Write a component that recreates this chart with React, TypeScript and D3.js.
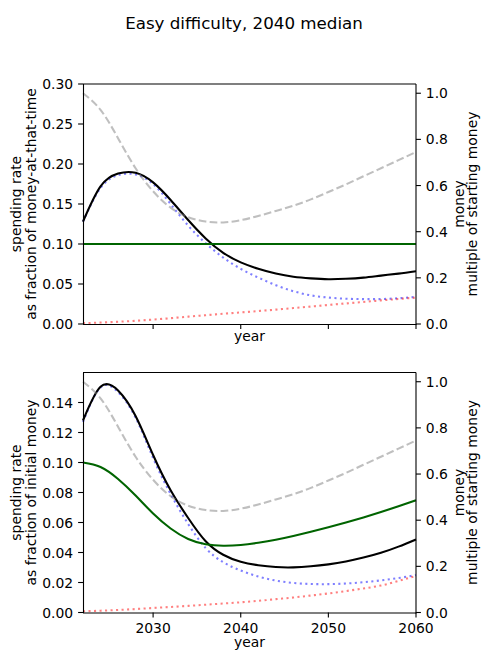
import * as d3 from 'd3';
import React from 'react';

// sample years shared by every series
const YEARS = [2022, 2024, 2026, 2028, 2030, 2032, 2034, 2036, 2038, 2040, 2042, 2044, 2046, 2048, 2050, 2052, 2054, 2056, 2058, 2060];

// money remaining (right axis, both panels), multiple of starting money
const moneyMedian = [1.0, 0.928, 0.805, 0.675, 0.575, 0.504, 0.463, 0.444, 0.44, 0.45, 0.468, 0.49, 0.513, 0.54, 0.572, 0.605, 0.64, 0.675, 0.71, 0.745];

// top panel: spending rate as fraction of money-at-that-time
const topBlack = [0.128, 0.172, 0.188, 0.189, 0.177, 0.155, 0.13, 0.107, 0.089, 0.077, 0.069, 0.063, 0.059, 0.057, 0.056, 0.0565, 0.058, 0.0605, 0.063, 0.066];
const topBlue = [0.128, 0.17, 0.186, 0.187, 0.175, 0.15, 0.123, 0.101, 0.083, 0.069, 0.058, 0.0485, 0.041, 0.0358, 0.033, 0.0316, 0.0311, 0.0312, 0.0322, 0.0338];
const topGreen = [0.1, 0.1, 0.1, 0.1, 0.1, 0.1, 0.1, 0.1, 0.1, 0.1, 0.1, 0.1, 0.1, 0.1, 0.1, 0.1, 0.1, 0.1, 0.1, 0.1];
const topRed = [0.001, 0.0018, 0.0028, 0.004, 0.0055, 0.0073, 0.0092, 0.011, 0.0128, 0.0145, 0.0162, 0.018, 0.0199, 0.0218, 0.0238, 0.0257, 0.0276, 0.0295, 0.0313, 0.033];

// bottom panel: spending rate as fraction of initial money
const botBlack = [0.128, 0.1505, 0.148, 0.131, 0.105, 0.0815, 0.063, 0.0475, 0.0385, 0.0338, 0.0315, 0.0303, 0.0301, 0.0308, 0.0321, 0.034, 0.0366, 0.0398, 0.0439, 0.0487];
const botBlue = [0.127, 0.15, 0.147, 0.13, 0.103, 0.079, 0.059, 0.043, 0.0335, 0.028, 0.024, 0.0213, 0.0197, 0.019, 0.0189, 0.0193, 0.0202, 0.0214, 0.023, 0.0249];
const botGreen = [0.1, 0.097, 0.089, 0.078, 0.066, 0.056, 0.049, 0.0455, 0.0445, 0.045, 0.0465, 0.0485, 0.051, 0.0538, 0.0568, 0.06, 0.0634, 0.067, 0.0708, 0.0748];
const botRed = [0.0008, 0.0012, 0.0017, 0.0023, 0.003, 0.0037, 0.0044, 0.0052, 0.006, 0.0068, 0.0078, 0.0089, 0.010, 0.0113, 0.0127, 0.0143, 0.016, 0.018, 0.021, 0.0244];

const TOP_LEFT_TICKS = [0, 0.05, 0.1, 0.15, 0.2, 0.25, 0.3];
const BOT_LEFT_TICKS = [0, 0.02, 0.04, 0.06, 0.08, 0.1, 0.12, 0.14];
const RIGHT_TICKS = [0, 0.2, 0.4, 0.6, 0.8, 1.0];
const YEAR_TICKS = [2030, 2040, 2050, 2060];

const FONT = '"DejaVu Sans", sans-serif';
const FS = 13.9;
const TICK = 4.9;
const PAD = 4.9;
const LW = 2.08;
const X0 = 83;
const X1 = 416;

type Series = {
    values: number[];
    axis: 'left' | 'right';
    color: string;
    opacity: number;
    dash?: string;
};

interface PanelProps {
    y0: number;
    y1: number;
    leftMax: number;
    leftTicks: number[];
    leftLabel: string[];
    series: Series[];
    showYears: boolean;
    topSpineY: number;
    yearLabelY: number;
}

const x = d3.scaleLinear().domain([2022, 2060]).range([X0, X1]);

function Panel({ y0, y1, leftMax, leftTicks, leftLabel, series, showYears, topSpineY, yearLabelY }: PanelProps) {
    const yL = d3.scaleLinear().domain([0, leftMax]).range([y1, y0]);
    const yR = d3.scaleLinear().domain([0, 1.04]).range([y1, y0]);
    const fmtL = d3.format('.2f');
    const fmtR = d3.format('.1f');
    const midY = (y0 + y1) / 2;
    const midX = (X0 + X1) / 2;

    return (
        <g>
            {series.map((s, i) => {
                const ys = s.axis === 'left' ? yL : yR;
                const line = d3
                    .line<number>()
                    .x((_, j) => x(YEARS[j]))
                    .y((v) => ys(v))
                    .curve(d3.curveNatural);
                return (
                    <path
                        key={i}
                        d={line(s.values) ?? ''}
                        fill="none"
                        stroke={s.color}
                        strokeOpacity={s.opacity}
                        strokeWidth={LW}
                        strokeDasharray={s.dash}
                    />
                );
            })}

            {/* spines */}
            <line x1={X0 + 0.5} x2={X0 + 0.5} y1={y0} y2={y1 + 0.5} stroke="#000" strokeWidth={1.1} />
            <line x1={X0} x2={X1} y1={y1 + 0.5} y2={y1 + 0.5} stroke="#000" strokeWidth={1.1} />
            <line x1={X0} x2={X1} y1={topSpineY} y2={topSpineY} stroke="#000" strokeWidth={1.1} />
            <line x1={X1} x2={X1} y1={y0} y2={y1 + 1} stroke="#000" strokeWidth={1.1} />

            {/* left axis */}
            {leftTicks.map((t) => (
                <g key={`l${t}`}>
                    <line x1={X0 - TICK} x2={X0} y1={yL(t)} y2={yL(t)} stroke="#000" strokeWidth={1.1} />
                    <text x={X0 - TICK - PAD} y={yL(t) + 5.06} textAnchor="end" fontSize={FS} fontFamily={FONT}>
                        {fmtL(t)}
                    </text>
                </g>
            ))}
            <text transform={`translate(0,${midY}) rotate(-90)`} textAnchor="middle" fontSize={FS} fontFamily={FONT}>
                <tspan x={0} y={20.5}>{leftLabel[0]}</tspan>
                <tspan x={0} y={35.5}>{leftLabel[1]}</tspan>
            </text>

            {/* right axis */}
            {RIGHT_TICKS.map((t) => (
                <g key={`r${t}`}>
                    <line x1={X1} x2={X1 + TICK} y1={yR(t)} y2={yR(t)} stroke="#000" strokeWidth={1.1} />
                    <text x={X1 + TICK + PAD} y={yR(t) + 5.06} fontSize={FS} fontFamily={FONT}>
                        {fmtR(t)}
                    </text>
                </g>
            ))}
            <text transform={`translate(0,${midY}) rotate(-90)`} textAnchor="middle" fontSize={FS} fontFamily={FONT}>
                <tspan x={0} y={464}>money</tspan>
                <tspan x={0} y={476.5}>multiple of starting money</tspan>
            </text>

            {/* x axis */}
            {YEAR_TICKS.map((t) => (
                <g key={`x${t}`}>
                    <line x1={x(t)} x2={x(t)} y1={y1} y2={y1 + TICK} stroke="#000" strokeWidth={1.1} />
                    {showYears && (
                        <text x={x(t)} y={y1 + TICK + PAD + 10.2} textAnchor="middle" fontSize={FS} fontFamily={FONT}>
                            {t}
                        </text>
                    )}
                </g>
            ))}
            <text x={midX} y={yearLabelY} textAnchor="middle" fontSize={FS} fontFamily={FONT}>
                year
            </text>
        </g>
    );
}

export default function App() {
    const dotted = `${LW} ${LW * 1.65}`;
    const dashed = `${LW * 3.7} ${LW * 1.6}`;

    const topSeries: Series[] = [
        { values: topBlue, axis: 'left', color: 'blue', opacity: 0.5, dash: dotted },
        { values: topBlack, axis: 'left', color: 'black', opacity: 1 },
        { values: topGreen, axis: 'left', color: 'darkgreen', opacity: 1 },
        { values: topRed, axis: 'left', color: 'red', opacity: 0.5, dash: dotted },
        { values: moneyMedian, axis: 'right', color: 'gray', opacity: 0.5, dash: dashed },
    ];
    const botSeries: Series[] = [
        { values: botBlue, axis: 'left', color: 'blue', opacity: 0.5, dash: dotted },
        { values: botBlack, axis: 'left', color: 'black', opacity: 1 },
        { values: botGreen, axis: 'left', color: 'darkgreen', opacity: 1 },
        { values: botRed, axis: 'left', color: 'red', opacity: 0.5, dash: dotted },
        { values: moneyMedian, axis: 'right', color: 'gray', opacity: 0.5, dash: dashed },
    ];

    return (
        <svg
            width={490}
            height={661}
            style={{ position: 'absolute', left: 0, top: 0, background: '#fff' }}
        >
            <text x={244} y={29} textAnchor="middle" fontSize={16.7} fontFamily={FONT}>
                Easy difficulty, 2040 median
            </text>
            <Panel
                y0={84}
                y1={324}
                leftMax={0.3}
                leftTicks={TOP_LEFT_TICKS}
                leftLabel={['spending rate', 'as fraction of money-at-that-time']}
                series={topSeries}
                showYears={false}
                topSpineY={84}
                yearLabelY={341}
            />
            <Panel
                y0={372.5}
                y1={612.5}
                leftMax={0.16}
                leftTicks={BOT_LEFT_TICKS}
                leftLabel={['spending rate', 'as fraction of initial money']}
                series={botSeries}
                showYears={true}
                topSpineY={372.5}
                yearLabelY={647}
            />
        </svg>
    );
}
